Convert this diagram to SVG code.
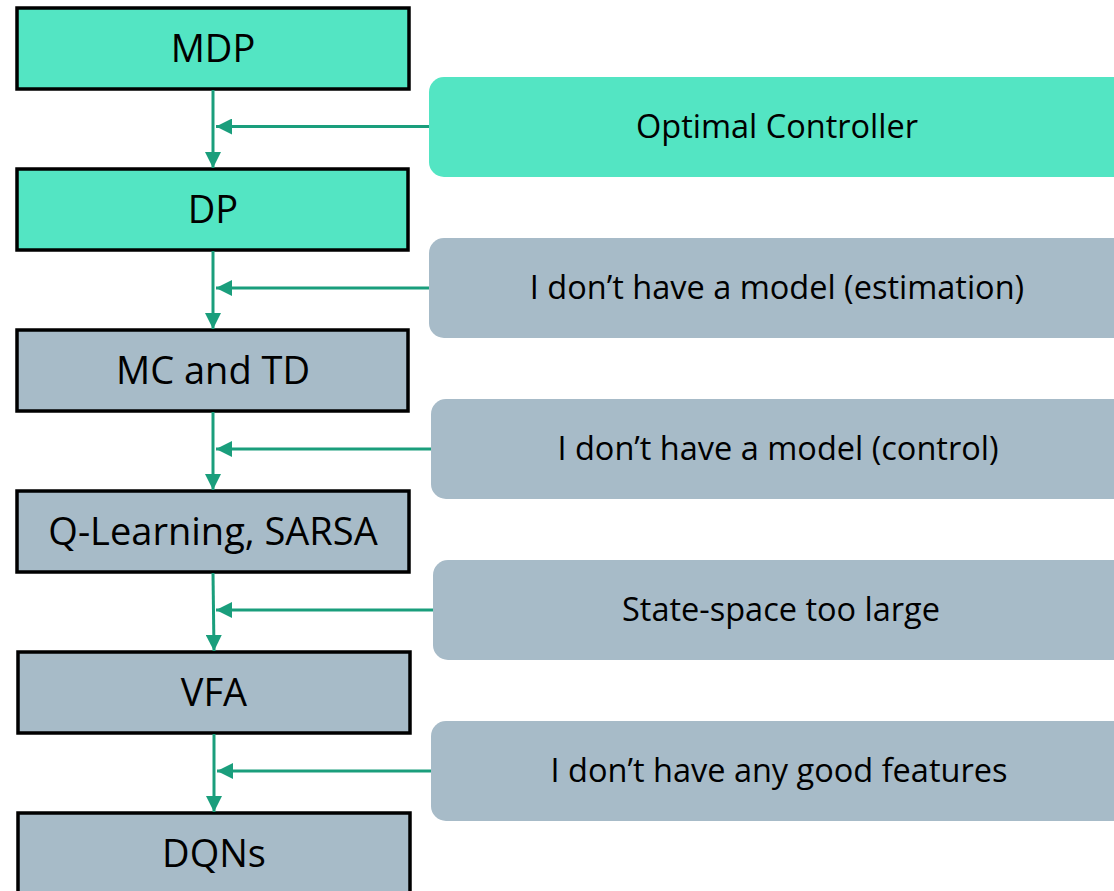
<svg xmlns="http://www.w3.org/2000/svg" width="1114" height="891" viewBox="0 0 1114 891">
<style>
.box{stroke:#000;stroke-width:3.5}
.teal{fill:#53E5C3}
.gray{fill:#A7BBC8}
.lt{font-family:"Open Sans","Noto Sans",sans-serif;font-size:38px;fill:#000;text-anchor:middle}
.rt{font-family:"Open Sans","Noto Sans",sans-serif;font-size:32.5px;fill:#000;text-anchor:middle}
.c{stroke:#1A9E7C;stroke-width:3;fill:none}
</style>
<defs>
<marker id="ah" viewBox="0 0 16 16" refX="16" refY="8" markerWidth="16" markerHeight="16" markerUnits="userSpaceOnUse" orient="auto">
<path d="M0,0 L16,8 L0,16 Z" fill="#1A9E7C"/>
</marker>
</defs>
<g id="n-mdp"><rect class="box teal" x="17" y="8" width="392" height="81"/><text class="lt" x="213" y="62">MDP</text></g>
<g id="n-dp"><rect class="box teal" x="17" y="169" width="391" height="81"/><text class="lt" x="213" y="223">DP</text></g>
<g id="n-mctd"><rect class="box gray" x="17" y="330" width="391" height="81"/><text class="lt" x="213" y="384">MC and TD</text></g>
<g id="n-q"><rect class="box gray" x="17" y="491" width="392" height="81"/><text class="lt" x="213" y="545">Q-Learning, SARSA</text></g>
<g id="n-vfa"><rect class="box gray" x="18" y="652" width="392" height="81"/><text class="lt" x="214" y="706">VFA</text></g>
<g id="n-dqn"><rect class="box gray" x="18" y="813" width="392" height="90"/><text class="lt" x="214" y="867">DQNs</text></g>
<g id="r-opt"><rect class="teal" x="429" y="77" width="700" height="100" rx="15"/><text class="rt" x="777" y="138">Optimal Controller</text></g>
<g id="r-est"><rect class="gray" x="429" y="238" width="700" height="100" rx="15"/><text class="rt" x="777" y="299">I don’t have a model (estimation)</text></g>
<g id="r-ctl"><rect class="gray" x="431" y="399" width="700" height="100" rx="15"/><text class="rt" x="778" y="460">I don’t have a model (control)</text></g>
<g id="r-ss"><rect class="gray" x="433" y="560" width="700" height="100" rx="15"/><text class="rt" x="781" y="621">State-space too large</text></g>
<g id="r-feat"><rect class="gray" x="431" y="721" width="700" height="100" rx="15"/><text class="rt" x="779" y="782">I don’t have any good features</text></g>
<g id="connectors">
<line class="c" x1="213" y1="90" x2="213" y2="168" marker-end="url(#ah)"/>
<line class="c" x1="429" y1="126.5" x2="216" y2="126.5" marker-end="url(#ah)"/>
<line class="c" x1="213" y1="251" x2="213" y2="329" marker-end="url(#ah)"/>
<line class="c" x1="429" y1="288" x2="216" y2="288" marker-end="url(#ah)"/>
<line class="c" x1="213" y1="412" x2="213" y2="490" marker-end="url(#ah)"/>
<line class="c" x1="431" y1="449" x2="216" y2="449" marker-end="url(#ah)"/>
<line class="c" x1="213" y1="573" x2="214" y2="651" marker-end="url(#ah)"/>
<line class="c" x1="433" y1="610" x2="216" y2="610" marker-end="url(#ah)"/>
<line class="c" x1="214" y1="734" x2="214" y2="812" marker-end="url(#ah)"/>
<line class="c" x1="431" y1="771" x2="217" y2="771" marker-end="url(#ah)"/>
</g>
</svg>
